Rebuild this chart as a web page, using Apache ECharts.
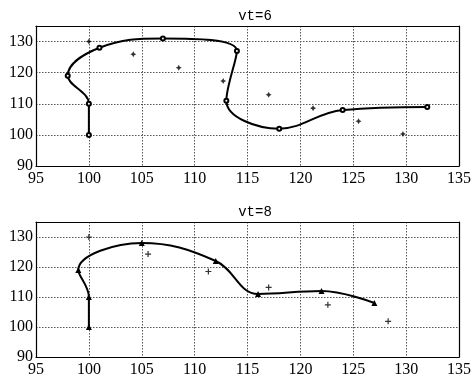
<!DOCTYPE html>
<html><head><meta charset="utf-8">
<script src="https://cdn.jsdelivr.net/npm/echarts@6/dist/echarts.min.js"></script>
<style>html,body{margin:0;padding:0;background:#fff}#c{width:474px;height:378px}</style>
</head><body><div id="c"></div>
<script>
const titles = ['vt=6', 'vt=8'];
const xTicks = [95, 100, 105, 110, 115, 120, 125, 130, 135];
const yTicks = [90, 100, 110, 120, 130];
// vt=6 curve points (x, y)
const curve6X = [100, 100, 98, 101, 107, 114, 113, 118, 124, 132];
const curve6Y = [100, 110, 119, 128, 131, 127, 111, 102, 108, 109];
// vt=6 star points
const star6X = [100, 104.2, 108.5, 112.7, 117, 121.2, 125.5, 129.7];
const star6Y = [130, 125.9, 121.6, 117.3, 112.9, 108.6, 104.4, 100.3];
// vt=8 curve points
const curve8X = [100, 100, 99, 105, 112, 116, 122, 127];
const curve8Y = [100, 110, 119, 128, 122, 111, 112, 108];
// vt=8 star points
const star8X = [100, 105.6, 111.3, 117, 122.6, 128.3];
const star8Y = [130, 124.3, 118.5, 113.2, 107.4, 101.9];

const zip = (a, b) => a.map((v, i) => [v, b[i]]);
const starPath = 'path://M0,-10L3.5,-3.5L10,0L3.5,3.5L0,10L-3.5,3.5L-10,0L-3.5,-3.5Z';
const crossPath = 'path://M-2,-10H2V-2H10V2H2V10H-2V2H-10V-2H-2Z';

const chart = echarts.init(document.getElementById('c'));
const grids = [
  {left: 36, right: 10, top: 26, height: 140},
  {left: 36, right: 10, top: 222, height: 140}
];
const labelFont = {fontFamily: 'Liberation Serif', fontSize: 16, color: '#000'};
const gridLine = {show: true, lineStyle: {color: '#555', type: [1.5, 1.5], width: 1}};
const xAxes = grids.map((g, i) => ({
  type: 'value', gridIndex: i, min: 95, max: 135, interval: 5,
  axisLine: {show: true, onZero: false, lineStyle: {color: '#000', width: 1.2}},
  axisTick: {show: false},
  axisLabel: Object.assign({margin: 5}, labelFont),
  splitLine: gridLine
}));
const yAxes = grids.map((g, i) => ({
  type: 'value', gridIndex: i, min: 90, max: 135, interval: 10,
  axisLine: {show: true, onZero: false, lineStyle: {color: '#000', width: 1.2}},
  axisTick: {show: false},
  axisLabel: Object.assign({margin: 3, showMaxLabel: false}, labelFont),
  splitLine: gridLine
}));
const frameX = grids.map((g, i) => ({
  type: 'value', gridIndex: i, position: 'top', min: 95, max: 135,
  axisLine: {show: true, onZero: false, lineStyle: {color: '#000', width: 1.2}},
  axisTick: {show: false}, axisLabel: {show: false}, splitLine: {show: false}
}));
const frameY = grids.map((g, i) => ({
  type: 'value', gridIndex: i, position: 'right', min: 90, max: 135,
  axisLine: {show: true, onZero: false, lineStyle: {color: '#000', width: 1.2}},
  axisTick: {show: false}, axisLabel: {show: false}, splitLine: {show: false}
}));

chart.setOption({
  animation: false,
  title: titles.map((t, i) => ({
    text: t, left: 250, textAlign: 'center', top: i === 0 ? 4 : 200,
    textStyle: {fontFamily: 'Liberation Mono', fontSize: 14, fontWeight: 'normal', color: '#000'}
  })),
  grid: grids,
  xAxis: xAxes.concat(frameX),
  yAxis: yAxes.concat(frameY),
  series: [
    {type: 'line', xAxisIndex: 0, yAxisIndex: 0, data: zip(curve6X, curve6Y), smooth: 0.4,
     symbol: 'emptyCircle', symbolSize: 4, lineStyle: {color: '#000', width: 2},
     itemStyle: {color: '#000', borderWidth: 1.2}, z: 3},
    {type: 'scatter', xAxisIndex: 0, yAxisIndex: 0, data: zip(star6X, star6Y),
     symbol: starPath, symbolSize: 6, itemStyle: {color: '#000'}, z: 4},
    {type: 'line', xAxisIndex: 1, yAxisIndex: 1, data: zip(curve8X, curve8Y), smooth: 0.4,
     symbol: 'triangle', symbolSize: 6, lineStyle: {color: '#000', width: 2},
     itemStyle: {color: '#000'}, z: 3},
    {type: 'scatter', xAxisIndex: 1, yAxisIndex: 1, data: zip(star8X, star8Y),
     symbol: crossPath, symbolSize: 6, itemStyle: {color: '#000'}, z: 4}
  ]
});
</script></body></html>
